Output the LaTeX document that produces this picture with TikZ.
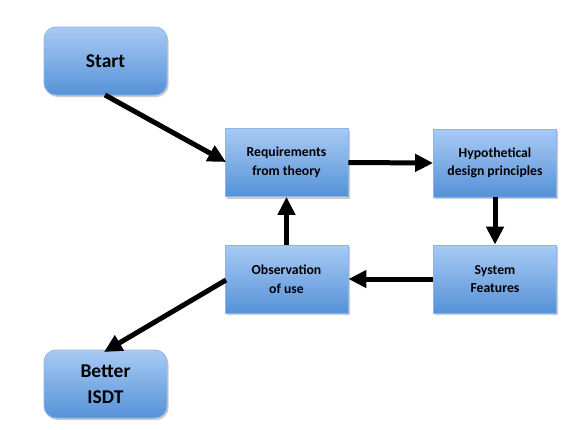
\documentclass[tikz,border=0pt]{standalone}
\usepackage{fontspec}
\setmainfont{Carlito}
\usetikzlibrary{arrows.meta,shadows}
\definecolor{boxtop}{HTML}{A9CAF4}
\definecolor{boxbot}{HTML}{5592D8}
\definecolor{boxline}{HTML}{8DB4E6}
\tikzset{
  box/.style={draw=boxline, line width=0.8pt, top color=boxtop, bottom color=boxbot,
    minimum width=123pt, minimum height=68pt, align=center, font=\bfseries\fontsize{13.7}{18.5}\selectfont,
    drop shadow={shadow xshift=1.5pt, shadow yshift=-2pt, opacity=0.2, fill=black}},
  rbox/.style={box, rounded corners=12pt, font=\bfseries\fontsize{19.5}{26}\selectfont},
  arr/.style={line width=5pt, -{Triangle[length=18pt,width=17pt]}},
}
\begin{document}
\begin{tikzpicture}[x=1pt,y=-1pt]
\useasboundingbox (0,0) rectangle (580,429);
\node[rbox] (start) at (105.5,61) {Start};
\node[box] (req) at (286.5,162.5) {Requirements\\from theory};
\node[box] (hyp) at (495,163) {Hypothetical\\design principles};
\node[box] (obs) at (286.5,279) {Observation\\of use};
\node[box] (sys) at (495,279) {System\\Features};
\node[rbox] (bet) at (105.5,384) {Better\\ISDT};
\coordinate (s1) at (105,95);
\coordinate (s2) at (226,162);
\coordinate (b1) at (226,280);
\coordinate (b2) at (104,352);
\draw[arr] (s1) -- (s2);
\draw[arr] (req.east) -- (hyp.west);
\draw[arr] (hyp.south) -- (sys.north);
\draw[arr] (sys.west) -- (obs.east);
\draw[arr] (obs.north) -- (req.south);
\draw[arr] (b1) -- (b2);
\end{tikzpicture}
\end{document}
